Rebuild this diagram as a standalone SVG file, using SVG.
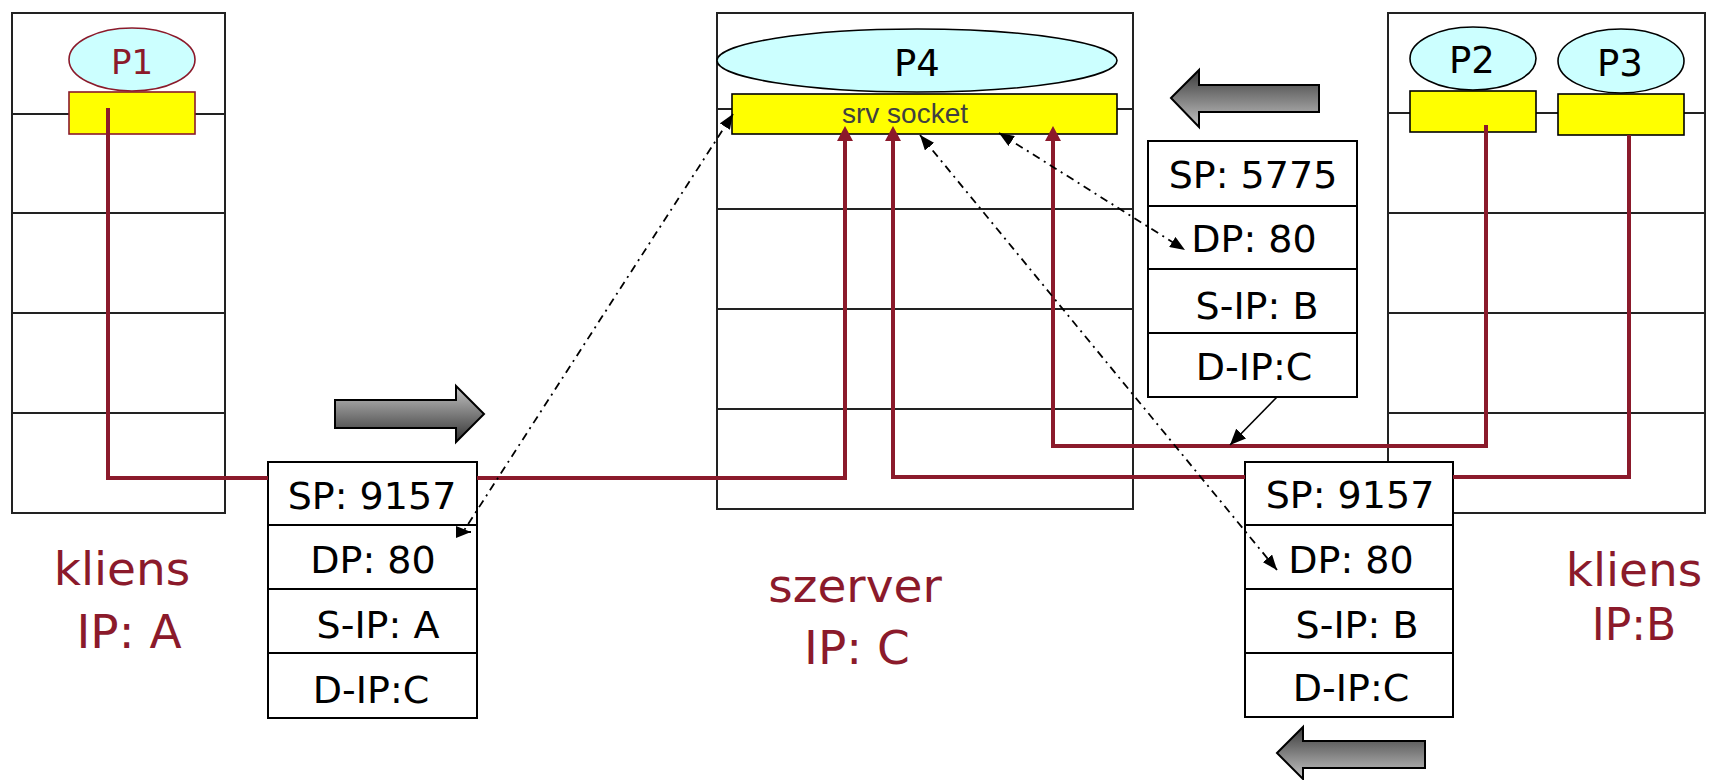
<svg xmlns="http://www.w3.org/2000/svg" width="1709" height="780" viewBox="0 0 1709 780">
<style>
.host{fill:#fff;stroke:#222;stroke-width:2}
.row{stroke:#222;stroke-width:2}
.proc{fill:#CCFFFF;stroke:#000;stroke-width:1.6}
.sock{fill:#FFFF00;stroke:#000;stroke-width:1.6}
.pkt{fill:#fff;stroke:#000;stroke-width:2}
.pt{font-family:"DejaVu Sans",sans-serif;font-size:38px;fill:#000;text-anchor:middle}
.pl{font-family:"DejaVu Sans",sans-serif;font-size:37px;fill:#000;text-anchor:middle}
.lab{font-family:"DejaVu Sans",sans-serif;font-size:47px;fill:#8B1A2B;text-anchor:middle}
.small{font-size:44px}
.red{fill:none;stroke:#8B1A2B;stroke-width:4}
.dd{fill:none;stroke:#000;stroke-width:1.8;stroke-dasharray:8 5 2 5}
.thin{fill:none;stroke:#000;stroke-width:1.6}
.garrow{stroke:#000;stroke-width:2}
</style>
<defs>
<marker id="rh" viewBox="0 0 15 16" refX="0" refY="8" markerWidth="15" markerHeight="16" markerUnits="userSpaceOnUse" orient="auto">
<path d="M0,0 L15,8 L0,16 Z" fill="#8B1A2B"/>
</marker>
<marker id="bh" viewBox="0 0 15 12" refX="15" refY="6" markerWidth="15" markerHeight="12" markerUnits="userSpaceOnUse" orient="auto-start-reverse">
<path d="M0,0 L15,6 L0,12 Z" fill="#000"/>
</marker>
<marker id="bh2" viewBox="0 0 16 14" refX="16" refY="7" markerWidth="16" markerHeight="14" markerUnits="userSpaceOnUse" orient="auto">
<path d="M0,0 L16,7 L0,14 Z" fill="#000"/>
</marker>
<linearGradient id="gR" x1="0" y1="0" x2="0" y2="1">
<stop offset="0" stop-color="#c4c4c4"/>
<stop offset="1" stop-color="#333"/>
</linearGradient>
<linearGradient id="gL" x1="0" y1="0" x2="0" y2="1">
<stop offset="0" stop-color="#3a3a3a"/>
<stop offset="1" stop-color="#c4c4c4"/>
</linearGradient>
</defs>
<rect width="1709" height="780" fill="#fff"/>

<g id="host-left">
<rect class="host" x="12" y="13" width="213" height="500"/>
<line class="row" x1="12" y1="114" x2="225" y2="114"/>
<line class="row" x1="12" y1="213" x2="225" y2="213"/>
<line class="row" x1="12" y1="313" x2="225" y2="313"/>
<line class="row" x1="12" y1="413" x2="225" y2="413"/>
<ellipse cx="132" cy="59.5" rx="63" ry="31.5" fill="#CCFFFF" stroke="#8B1A2B" stroke-width="1.6"/>
<text x="132" y="74" font-family="DejaVu Sans, sans-serif" font-size="34" fill="#8B1A2B" text-anchor="middle">P1</text>
<rect x="69" y="92" width="126" height="42" fill="#FFFF00" stroke="#8B1A2B" stroke-width="1.6"/>
</g>

<g id="host-server">
<rect class="host" x="717" y="13" width="416" height="496"/>
<line class="row" x1="717" y1="109" x2="1133" y2="109"/>
<line class="row" x1="717" y1="209" x2="1133" y2="209"/>
<line class="row" x1="717" y1="309" x2="1133" y2="309"/>
<line class="row" x1="717" y1="409" x2="1133" y2="409"/>
<ellipse class="proc" cx="917" cy="60.5" rx="200" ry="31.5"/>
<text class="pl" x="917" y="76">P4</text>
<rect class="sock" x="732" y="94" width="385" height="40"/>
<text x="905" y="123" font-family="Liberation Sans, Arial, sans-serif" font-size="28" fill="#404040" text-anchor="middle">srv socket</text>
</g>

<g id="host-right">
<rect class="host" x="1388" y="13" width="317" height="500"/>
<line class="row" x1="1388" y1="113" x2="1705" y2="113"/>
<line class="row" x1="1388" y1="213" x2="1705" y2="213"/>
<line class="row" x1="1388" y1="313" x2="1705" y2="313"/>
<line class="row" x1="1388" y1="413" x2="1705" y2="413"/>
<ellipse class="proc" cx="1473" cy="58.5" rx="63" ry="31.5"/>
<text class="pl" x="1472" y="73">P2</text>
<rect class="sock" x="1410" y="91" width="126" height="41"/>
<ellipse class="proc" cx="1621" cy="61" rx="63" ry="32"/>
<text class="pl" x="1620" y="76">P3</text>
<rect class="sock" x="1558" y="94" width="126" height="41"/>
</g>

<g id="packet-left">
<rect class="pkt" x="268" y="462" width="209" height="256"/>
<line class="pkt" x1="268" y1="525" x2="477" y2="525"/>
<line class="pkt" x1="268" y1="589" x2="477" y2="589"/>
<line class="pkt" x1="268" y1="653" x2="477" y2="653"/>
<text class="pt" x="372" y="509">SP: 9157</text>
<text class="pt" x="373" y="573">DP: 80</text>
<text class="pt" x="378" y="638">S-IP: A</text>
<text class="pt" x="371" y="703">D-IP:C</text>
</g>

<g id="packet-right-top">
<rect class="pkt" x="1148" y="141" width="209" height="256"/>
<line class="pkt" x1="1148" y1="206" x2="1357" y2="206"/>
<line class="pkt" x1="1148" y1="269" x2="1357" y2="269"/>
<line class="pkt" x1="1148" y1="333" x2="1357" y2="333"/>
<text class="pt" x="1253" y="188">SP: 5775</text>
<text class="pt" x="1254" y="252">DP: 80</text>
<text class="pt" x="1257" y="319">S-IP: B</text>
<text class="pt" x="1254" y="380">D-IP:C</text>
</g>

<g id="packet-right-bottom">
<rect class="pkt" x="1245" y="462" width="208" height="255"/>
<line class="pkt" x1="1245" y1="525" x2="1453" y2="525"/>
<line class="pkt" x1="1245" y1="589" x2="1453" y2="589"/>
<line class="pkt" x1="1245" y1="653" x2="1453" y2="653"/>
<text class="pt" x="1350" y="508">SP: 9157</text>
<text class="pt" x="1351" y="573">DP: 80</text>
<text class="pt" x="1357" y="638">S-IP: B</text>
<text class="pt" x="1351" y="701">D-IP:C</text>
</g>

<g id="label-left">
<text class="lab" x="122" y="585">kliens</text>
<text class="lab" x="129" y="648">IP: A</text>
</g>
<g id="label-server">
<text class="lab" x="855" y="602">szerver</text>
<text class="lab" x="857" y="664">IP: C</text>
</g>
<g id="label-right">
<text class="lab" x="1634" y="586">kliens</text>
<text class="lab small" x="1634" y="640">IP:B</text>
</g>

<g id="flow-arrows">
<path class="garrow" fill="url(#gR)" d="M335,400 H456 V386 L484,414 L456,442 V428 H335 Z"/>
<path class="garrow" fill="url(#gL)" d="M1171,98 L1199,70 V85 H1319 V112 H1199 V127 Z"/>
<path class="garrow" fill="url(#gL)" d="M1277,753 L1303,727 V741 H1425 V768 H1303 V779 Z"/>
</g>

<g id="connectors">
<path class="red" d="M108,108 V478 H268"/>
<path class="red" d="M477,478 H845 V141" marker-end="url(#rh)"/>
<path class="red" d="M1245,477 H893 V141" marker-end="url(#rh)"/>
<path class="red" d="M1629,135 V477 H1453"/>
<path class="red" d="M1486,125 V446 H1053 V141" marker-end="url(#rh)"/>
<path class="dd" d="M733,114 L463,532 L471,532" marker-start="url(#bh)" marker-end="url(#bh)"/>
<path class="dd" d="M920,135 L1277,570" marker-start="url(#bh)" marker-end="url(#bh)"/>
<path class="dd" d="M999,133 L1185,250" marker-start="url(#bh)" marker-end="url(#bh)"/>
<path class="thin" d="M1277,397 L1230,445" marker-end="url(#bh2)"/>
</g>
</svg>
